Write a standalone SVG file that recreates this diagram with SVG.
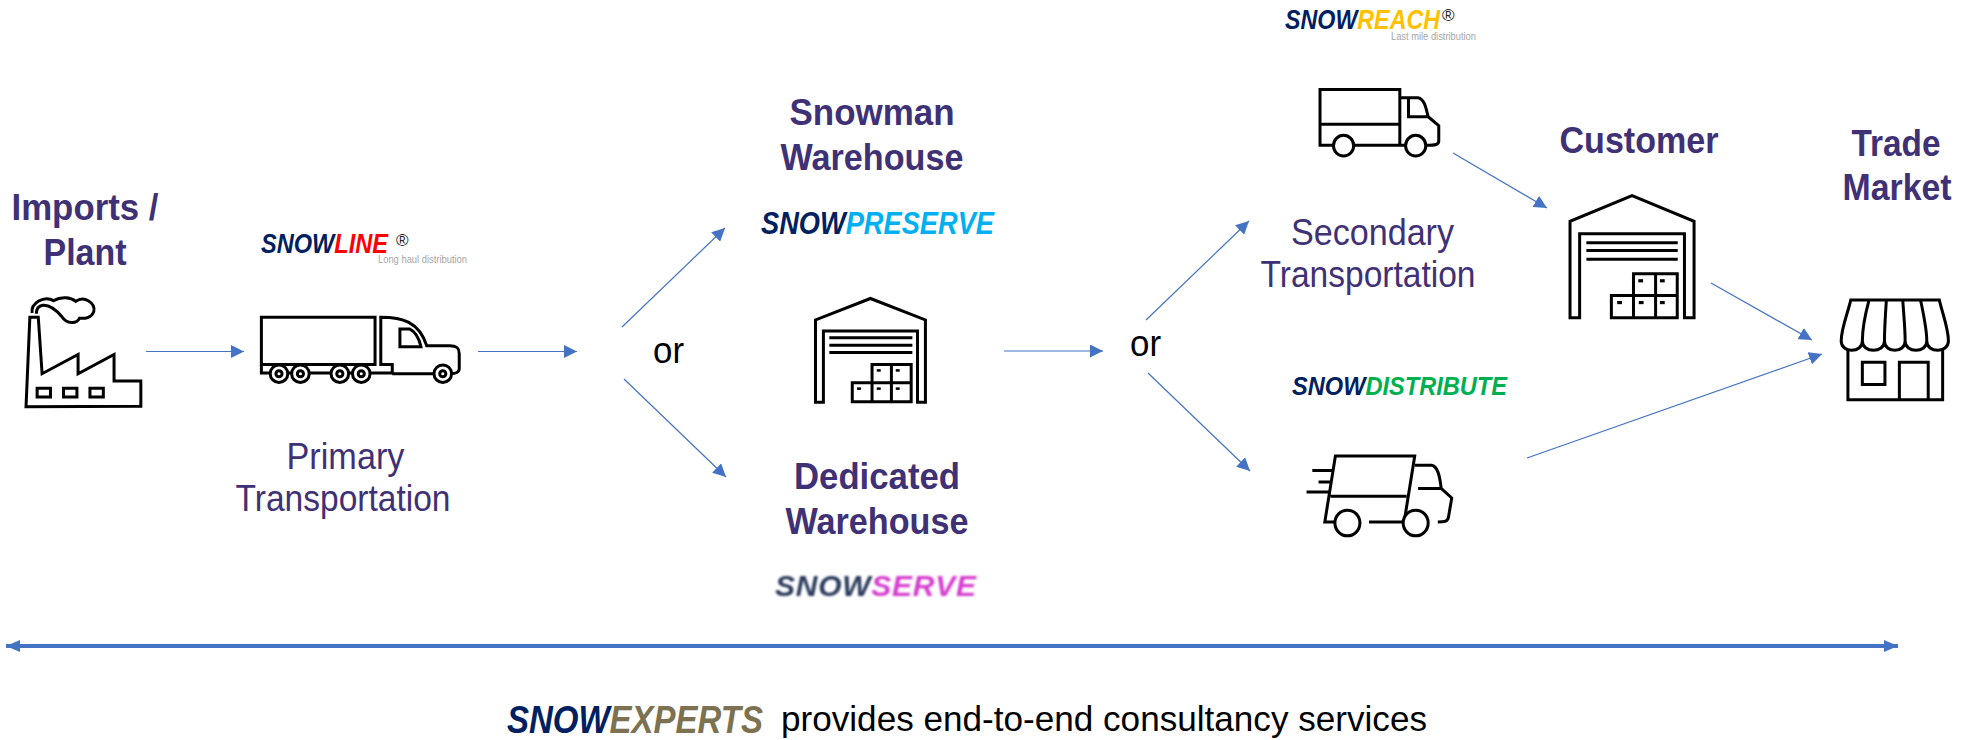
<svg xmlns="http://www.w3.org/2000/svg" width="1974" height="740" viewBox="0 0 1974 740">
<style>
text{font-family:"Liberation Sans",Arial,sans-serif}
.h{font-size:37px;font-weight:700;fill:#3f3175;text-anchor:middle}
.l{font-size:36px;fill:#3f3175;text-anchor:middle}
.or{font-size:36px;fill:#000}
.b{font-weight:700;font-style:italic}
.navy{fill:#002060}
.tag{fill:#a6a6a6;font-size:11px}
.reg{fill:#222;font-size:17px}
.i *{fill:none;stroke:#000;stroke-width:3;vector-effect:non-scaling-stroke;stroke-linejoin:miter}
.i .w{fill:#fff}
.i .k{fill:#000;stroke:none}
.c line{stroke:#4472c4;stroke-width:1.2;marker-end:url(#a)}
.c .big{stroke-width:4;marker-end:url(#e);marker-start:url(#e)}
</style>
<defs>
<marker id="a" markerUnits="userSpaceOnUse" markerWidth="13" markerHeight="13" refX="13" refY="6.5" orient="auto"><path d="M0,0L13,6.5L0,13Z" fill="#4472c4"/></marker>
<marker id="e" markerUnits="userSpaceOnUse" markerWidth="14" markerHeight="12" refX="14" refY="6" orient="auto-start-reverse"><path d="M0,0L14,6L0,12Z" fill="#4472c4"/></marker>
<filter id="soft" x="-5%" y="-20%" width="110%" height="140%"><feGaussianBlur stdDeviation="0.8"/></filter>
</defs>
<rect width="1974" height="740" fill="#fff"/>

<g id="connectors" class="c">
<line x1="146" y1="351.5" x2="244" y2="351.5"/>
<line x1="478" y1="351.5" x2="577" y2="351.5"/>
<line x1="622" y1="327" x2="725" y2="228"/>
<line x1="624" y1="379" x2="726" y2="477"/>
<line x1="1004" y1="351" x2="1103" y2="351"/>
<line x1="1146" y1="320" x2="1249" y2="221"/>
<line x1="1148" y1="373" x2="1250" y2="471"/>
<line x1="1453" y1="153" x2="1547" y2="208"/>
<line x1="1711" y1="283" x2="1812" y2="340"/>
<line x1="1527" y1="458" x2="1822" y2="354"/>
<line class="big" x1="6" y1="646" x2="1898" y2="646"/>
</g>

<g id="imports-plant">
<text class="h" x="85" y="220" textLength="147" lengthAdjust="spacingAndGlyphs">Imports /</text>
<text class="h" x="85" y="265" textLength="83" lengthAdjust="spacingAndGlyphs">Plant</text>
<g class="i" transform="translate(0,170) scale(.3827,.3367)">
<path d="M68,703L78,437H100L110,605L204,548V605L298,548V627H368V702Z"/>
<rect x="97" y="648" width="35" height="26"/><rect x="166" y="648" width="35" height="26"/><rect x="235" y="648" width="35" height="26"/>
<path d="M84,425C80,395 115,372 140,388C160,375 185,378 198,390C220,372 250,395 245,420C240,440 220,442 208,440C200,458 175,458 162,436C150,420 130,400 112,402C100,404 95,415 95,427"/>
</g>
</g>

<g id="primary-transportation">
<text class="b navy" font-size="28" x="261" y="253" textLength="127" lengthAdjust="spacingAndGlyphs">SNOW<tspan fill="#ff0000">LINE</tspan></text>
<text class="reg" x="396" y="246">®</text>
<text class="tag" x="378" y="263" textLength="89" lengthAdjust="spacingAndGlyphs">Long haul distribution</text>
<g class="i" transform="translate(0,170) scale(.3827,.3367)">
<rect x="683" y="437" width="297" height="141"/>
<path d="M683,578V603H1025V578H995V437C1050,437 1095,450 1115,522H1175C1195,522 1200,530 1200,545V590C1200,600 1190,605 1178,605M1025,605H1140"/>
<path d="M1045,472H1070C1085,480 1095,500 1100,525H1045Z"/>
<ellipse class="w" cx="729" cy="605" rx="23" ry="26"/><ellipse cx="729" cy="605" rx="8" ry="9"/>
<ellipse class="w" cx="785" cy="605" rx="23" ry="26"/><ellipse cx="785" cy="605" rx="8" ry="9"/>
<ellipse class="w" cx="888" cy="605" rx="23" ry="26"/><ellipse cx="888" cy="605" rx="8" ry="9"/>
<ellipse class="w" cx="944" cy="605" rx="23" ry="26"/><ellipse cx="944" cy="605" rx="8" ry="9"/>
<ellipse class="w" cx="1157" cy="605" rx="23" ry="26"/><ellipse cx="1157" cy="605" rx="8" ry="9"/>
</g>
<text class="l" x="345.5" y="469" textLength="118" lengthAdjust="spacingAndGlyphs">Primary</text>
<text class="l" x="343" y="511" textLength="215" lengthAdjust="spacingAndGlyphs">Transportation</text>
</g>

<g id="or-1"><text class="or" x="653" y="363" textLength="31" lengthAdjust="spacingAndGlyphs">or</text></g>

<g id="snowman-warehouse">
<text class="h" x="872" y="125" textLength="165" lengthAdjust="spacingAndGlyphs">Snowman</text>
<text class="h" x="872" y="170" textLength="183" lengthAdjust="spacingAndGlyphs">Warehouse</text>
<text class="b navy" font-size="31" x="761" y="234" textLength="233" lengthAdjust="spacingAndGlyphs">SNOW<tspan fill="#00b0f0">PRESERVE</tspan></text>
<g class="i" transform="translate(600,80) scale(.3954,.357)">
<path d="M545,903V672L684,612L823,672V903H803V703H565V903Z"/>
<path d="M580,722H790M580,743H790M580,763H790"/>
<path d="M688,797H787V901H638V848H688ZM737,797V901M688,848V901M688,848H787"/>
<rect class="k" x="700" y="810" width="10" height="7"/><rect class="k" x="748" y="810" width="10" height="7"/><rect class="k" x="650" y="861" width="10" height="7"/><rect class="k" x="700" y="861" width="10" height="7"/><rect class="k" x="748" y="861" width="10" height="7"/>
</g>
</g>

<g id="dedicated-warehouse">
<text class="h" x="877" y="489" textLength="166" lengthAdjust="spacingAndGlyphs">Dedicated</text>
<text class="h" x="877" y="534" textLength="183" lengthAdjust="spacingAndGlyphs">Warehouse</text>
<text class="b" fill="#2b3a5c" font-size="30" x="775" y="596" textLength="201" lengthAdjust="spacing" filter="url(#soft)">SNOW<tspan fill="#d63ccf">SERVE</tspan></text>
</g>

<g id="or-2"><text class="or" x="1130" y="356" textLength="31" lengthAdjust="spacingAndGlyphs">or</text></g>

<g id="secondary-transportation">
<text class="b navy" font-size="28" x="1285" y="29" textLength="155" lengthAdjust="spacingAndGlyphs">SNOW<tspan fill="#ffc000">REACH</tspan></text>
<text class="reg" x="1442" y="21">®</text>
<text class="tag" x="1391" y="40" textLength="85" lengthAdjust="spacingAndGlyphs">Last mile distribution</text>
<g class="i" transform="translate(1220,0) scale(.4808,.357)">
<path d="M236,407H208V251H374V407H385M280,407H374M208,348H374"/>
<path d="M374,274H412C425,278 428,300 433,327H392V274M433,327L455,352V395C455,405 448,407 430,407"/>
<ellipse class="w" cx="257" cy="408" rx="21" ry="29"/><ellipse class="w" cx="407" cy="408" rx="21" ry="29"/>
</g>
<text class="l" x="1372.5" y="245" textLength="163" lengthAdjust="spacingAndGlyphs">Secondary</text>
<text class="l" x="1368" y="286.5" textLength="215" lengthAdjust="spacingAndGlyphs">Transportation</text>
</g>

<g id="snowdistribute">
<text class="b navy" font-size="26" x="1292" y="395" textLength="215" lengthAdjust="spacingAndGlyphs">SNOW<tspan fill="#00b050">DISTRIBUTE</tspan></text>
<g class="i" transform="translate(1220,0) scale(.4808,.357)">
<path d="M240,1462H218L240,1277H405L383,1462H310M230,1390H388M192,1318H235M205,1350H232M180,1378H228"/>
<path d="M405,1303H440C452,1305 457,1330 460,1368H412M460,1368L482,1395L475,1450C473,1462 465,1462 453,1462"/>
<ellipse class="w" cx="265" cy="1465" rx="26" ry="36"/><ellipse class="w" cx="407" cy="1465" rx="26" ry="36"/>
</g>
</g>

<g id="customer">
<text class="h" x="1639" y="153" textLength="159" lengthAdjust="spacingAndGlyphs">Customer</text>
<g class="i" transform="translate(1220,0) scale(.4808,.357)">
<path d="M728,890V620L857,548L986,620V890H966V655H748V890Z"/>
<path d="M762,680H952M762,702H952M762,726H952"/>
<path d="M860,767H951V890H814V828H860ZM906,767V890M860,828V890M860,828H951"/>
<rect class="k" x="870" y="782" width="10" height="9"/><rect class="k" x="915" y="782" width="10" height="9"/><rect class="k" x="826" y="843" width="10" height="9"/><rect class="k" x="871" y="843" width="10" height="9"/><rect class="k" x="915" y="843" width="10" height="9"/>
</g>
</g>

<g id="trade-market">
<text class="h" x="1896" y="156" textLength="89" lengthAdjust="spacingAndGlyphs">Trade</text>
<text class="h" x="1897" y="200" textLength="109" lengthAdjust="spacingAndGlyphs">Market</text>
<g class="i" transform="translate(1220,0) scale(.4808,.357)">
<path d="M1312,840H1496C1503,880 1515,920 1515,955C1515,990 1470,990 1470,955C1470,990 1425,990 1425,955C1425,990 1382,990 1382,955C1382,990 1336,990 1336,955C1336,990 1292,990 1292,955C1292,920 1305,880 1312,840Z"/>
<path d="M1350,840C1342,880 1336,920 1336,955M1386,840C1384,880 1382,920 1382,955M1420,840C1422,880 1425,920 1425,955M1457,840C1463,880 1470,920 1470,955"/>
<path d="M1306,978V1120H1503V978"/>
<rect x="1336" y="1015" width="47" height="62"/>
<path d="M1413,1120V1015H1473V1120"/>
</g>
</g>

<g id="consultancy">
<text class="b navy" font-size="39" x="507" y="733" textLength="256" lengthAdjust="spacingAndGlyphs">SNOW<tspan fill="#7c7150">EXPERTS</tspan></text>
<text font-size="35" fill="#000" x="781" y="731" textLength="646" lengthAdjust="spacingAndGlyphs">provides end-to-end consultancy services</text>
</g>
</svg>
